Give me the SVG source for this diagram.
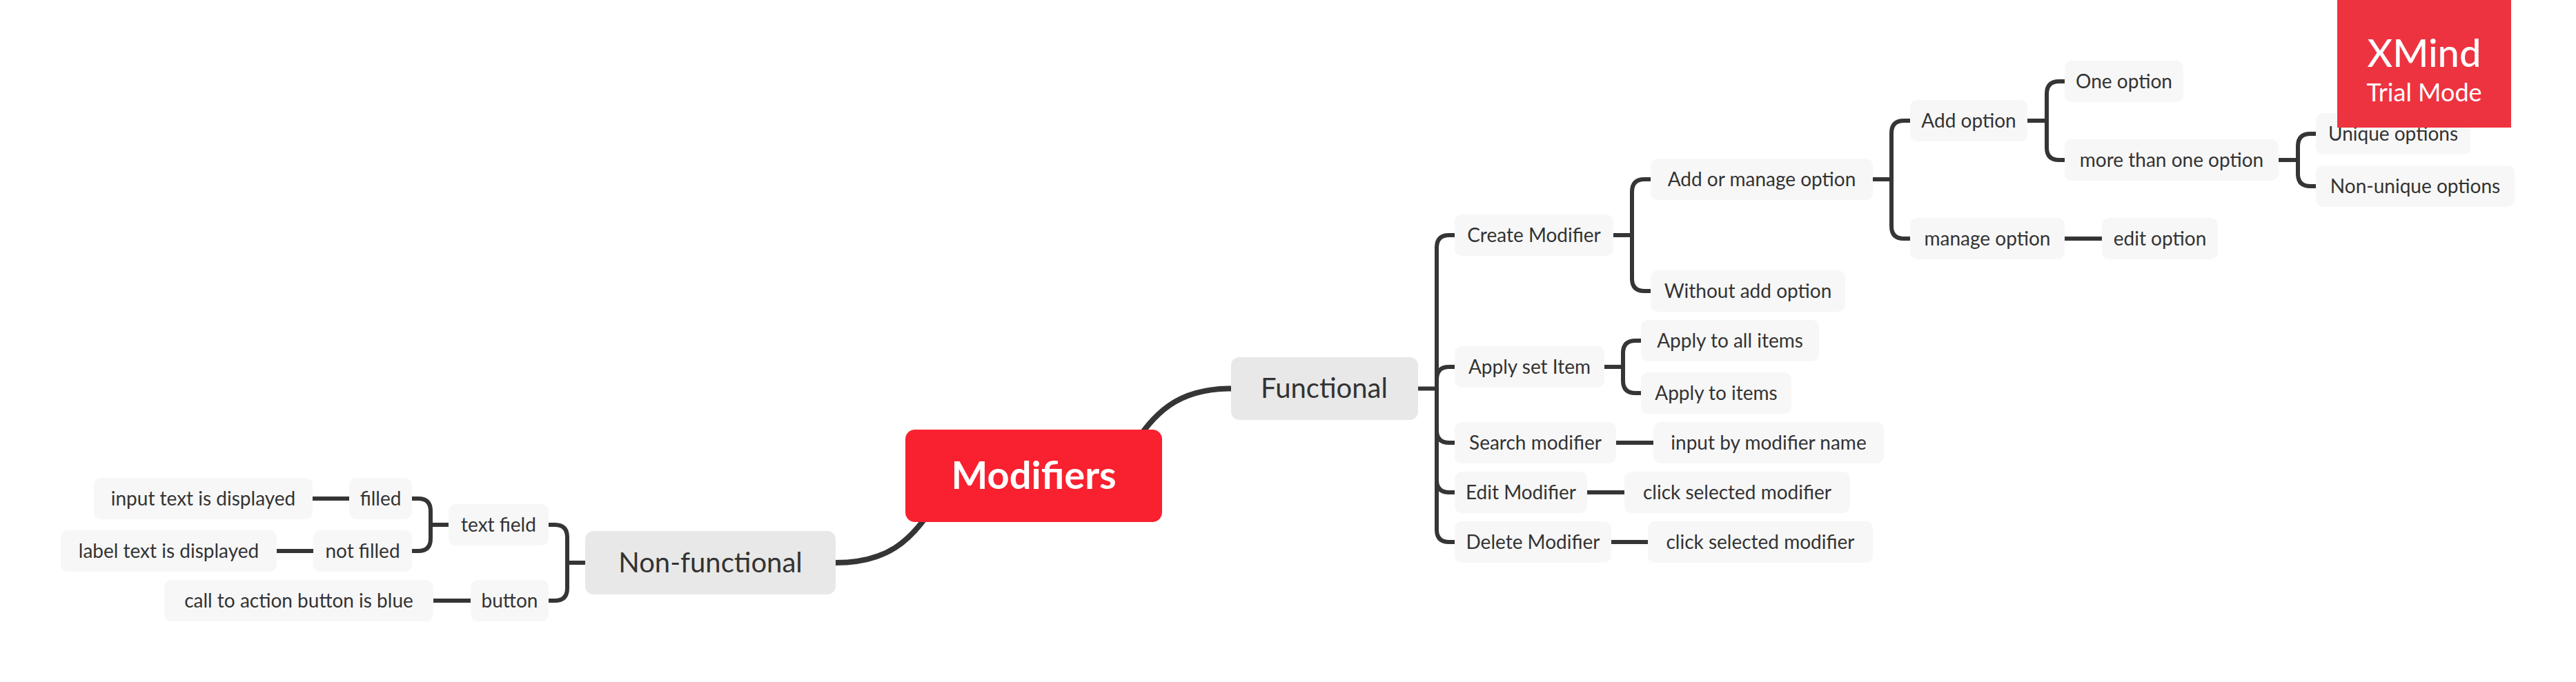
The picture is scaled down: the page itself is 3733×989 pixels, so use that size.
<svg xmlns="http://www.w3.org/2000/svg" width="3733" height="989" viewBox="0 0 3733 989">
<style>
text{font-family:"Lato","Noto Sans",sans-serif;text-anchor:middle;fill:#333}
.t{font-size:28px}
.l{font-size:40px}
.n{fill:#f7f7f7}
.m{fill:#e8e8e8}
#connectors path{fill:none;stroke:#353535;stroke-width:6}
#connectors .thick{stroke-width:8}
</style>
<rect width="3733" height="989" fill="#fff"/>
<g id="connectors">
<path class="thick" d="M1784 563.5C1705 563.5 1672 600 1640 650"/>
<path class="thick" d="M1211 816C1285 816 1320 785 1352 735"/>
<path d="M2055 563.5H2082M2082 563.5V359Q2082 341 2100 341H2108M2082 563.5V550Q2082 532 2100 532H2108M2082 563.5V624Q2082 642 2100 642H2108M2082 563.5V696Q2082 714 2100 714H2108M2082 563.5V768Q2082 786 2100 786H2108"/>
<path d="M2338 341H2365M2365 341V278Q2365 260 2383 260H2392M2365 341V404Q2365 422 2383 422H2392"/>
<path d="M2714 260H2741M2741 260V193Q2741 175 2759 175H2768M2741 260V328Q2741 346 2759 346H2768"/>
<path d="M2938 175H2966M2966 175V136Q2966 118 2984 118H2992M2966 175V214Q2966 232 2984 232H2992"/>
<path d="M3302 232H3330M3330 232V212Q3330 194 3348 194H3356M3330 232V252Q3330 270 3348 270H3356"/>
<path d="M2992 346H3046"/>
<path d="M2325 532H2352M2352 532V512Q2352 494 2370 494H2378M2352 532V552Q2352 570 2370 570H2378"/>
<path d="M2342 642H2396M2300 714H2354M2335 786H2388"/>
<path d="M848 816H822M822 816V779Q822 761 804 761H795M822 816V853Q822 871 804 871H795"/>
<path d="M650 761H624M624 761V741Q624 723 606 723H597M624 761V781Q624 799 606 799H597"/>
<path d="M506 723H453M454 799H401M682 871H628"/>
</g>
<g id="central"><rect x="1312" y="623" width="372" height="134" rx="14" fill="#f9212f"/><text x="1498" y="709" font-size="56" font-weight="700" style="fill:#fff">Modifiers</text></g>
<g id="functional"><rect class="m" x="1784" y="518" width="271" height="91" rx="12"/><text class="l" x="1919" y="577">Functional</text></g>
<g id="non-functional"><rect class="m" x="848" y="770" width="363" height="92" rx="12"/><text class="l" x="1029.500" y="830">Non-functional</text></g>
<g id="create-modifier"><rect class="n" x="2108" y="311" width="230" height="60" rx="10"/><text class="t" x="2223" y="351">Create Modifier</text></g>
<g id="add-or-manage"><rect class="n" x="2392" y="230" width="322" height="60" rx="10"/><text class="t" x="2553" y="270">Add or manage option</text></g>
<g id="without-add"><rect class="n" x="2392" y="392" width="282" height="60" rx="10"/><text class="t" x="2533" y="432">Without add option</text></g>
<g id="add-option"><rect class="n" x="2768" y="145" width="170" height="60" rx="10"/><text class="t" x="2853" y="185">Add option</text></g>
<g id="manage-option"><rect class="n" x="2768" y="316" width="224" height="60" rx="10"/><text class="t" x="2880" y="356">manage option</text></g>
<g id="edit-option"><rect class="n" x="3046" y="316" width="168" height="60" rx="10"/><text class="t" x="3130" y="356">edit option</text></g>
<g id="one-option"><rect class="n" x="2992" y="88" width="172" height="60" rx="10"/><text class="t" x="3078" y="128">One option</text></g>
<g id="more-than-one"><rect class="n" x="2992" y="202" width="310" height="60" rx="10"/><text class="t" x="3147" y="242">more than one option</text></g>
<g id="unique"><rect class="n" x="3356" y="164" width="224" height="60" rx="10"/><text class="t" x="3468" y="204">Unique options</text></g>
<g id="non-unique"><rect class="n" x="3356" y="240" width="288" height="60" rx="10"/><text class="t" x="3500" y="280">Non-unique options</text></g>
<g id="apply-set"><rect class="n" x="2108" y="502" width="217" height="60" rx="10"/><text class="t" x="2216.500" y="542">Apply set Item</text></g>
<g id="apply-all"><rect class="n" x="2378" y="464" width="258" height="60" rx="10"/><text class="t" x="2507" y="504">Apply to all items</text></g>
<g id="apply-items"><rect class="n" x="2378" y="540" width="218" height="60" rx="10"/><text class="t" x="2487" y="580">Apply to items</text></g>
<g id="search"><rect class="n" x="2108" y="612" width="234" height="60" rx="10"/><text class="t" x="2225" y="652">Search modifier</text></g>
<g id="input-name"><rect class="n" x="2396" y="612" width="334" height="60" rx="10"/><text class="t" x="2563" y="652">input by modifier name</text></g>
<g id="edit-modifier"><rect class="n" x="2108" y="684" width="192" height="60" rx="10"/><text class="t" x="2204" y="724">Edit Modifier</text></g>
<g id="click-1"><rect class="n" x="2354" y="684" width="327" height="60" rx="10"/><text class="t" x="2517.500" y="724">click selected modifier</text></g>
<g id="delete-modifier"><rect class="n" x="2108" y="756" width="227" height="60" rx="10"/><text class="t" x="2221.500" y="796">Delete Modifier</text></g>
<g id="click-2"><rect class="n" x="2388" y="756" width="326" height="60" rx="10"/><text class="t" x="2551" y="796">click selected modifier</text></g>
<g id="text-field"><rect class="n" x="650" y="731" width="145" height="60" rx="10"/><text class="t" x="722.500" y="771">text field</text></g>
<g id="button"><rect class="n" x="682" y="841" width="113" height="60" rx="10"/><text class="t" x="738.500" y="881">button</text></g>
<g id="filled"><rect class="n" x="506" y="693" width="91" height="60" rx="10"/><text class="t" x="551.500" y="733">filled</text></g>
<g id="not-filled"><rect class="n" x="454" y="769" width="143" height="60" rx="10"/><text class="t" x="525.500" y="809">not filled</text></g>
<g id="input-displayed"><rect class="n" x="136" y="693" width="317" height="60" rx="10"/><text class="t" x="294.500" y="733">input text is displayed</text></g>
<g id="label-displayed"><rect class="n" x="88" y="769" width="313" height="60" rx="10"/><text class="t" x="244.500" y="809">label text is displayed</text></g>
<g id="call-to-action"><rect class="n" x="238" y="841" width="390" height="60" rx="10"/><text class="t" x="433" y="881">call to action button is blue</text></g>
<g id="watermark"><rect x="3387" y="0" width="252" height="185" fill="#ee3340"/><text x="3513" y="97" font-size="56" font-weight="500" style="fill:#fff">XMind</text><text x="3513" y="147" font-size="36" style="fill:#fff">Trial Mode</text></g>
</svg>
